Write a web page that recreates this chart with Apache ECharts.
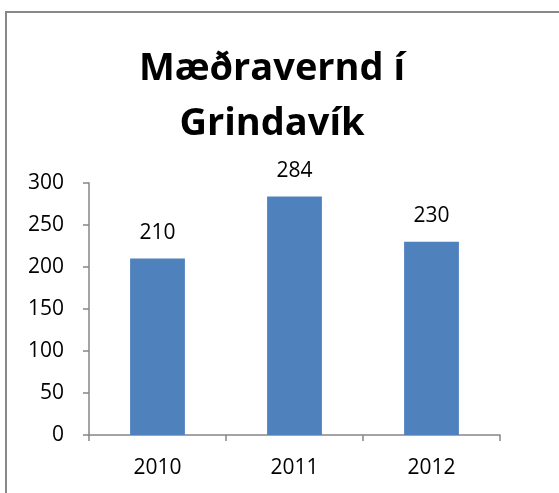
<!DOCTYPE html>
<html lang="is">
<head>
    <meta charset="utf-8">
    <title>Mæðravernd í Grindavík</title>
    <script src="https://cdn.jsdelivr.net/npm/echarts@6/dist/echarts.min.js"></script>
    <style>
        html, body { margin: 0; padding: 0; background: #fff; }
    </style>
</head>
<body>
<div id="main" style="width: 559px;height:493px;"></div>
<script type="text/javascript">
    // gögn
    var years = ['2010', '2011', '2012'];
    var visits = [210, 284, 230];
    var yTicks = [0, 50, 100, 150, 200, 250, 300];

    var font = '"Open Sans", "Liberation Sans", sans-serif';
    var axisGrey = '#868686';

    var myChart = echarts.init(document.getElementById('main'));
    myChart.setOption({
        animation: false,
        backgroundColor: '#fff',
        textStyle: { fontFamily: font },
        graphic: [{
            type: 'rect',
            shape: { x: 6, y: 12, width: 700, height: 700 },
            style: { fill: 'none', stroke: '#888', lineWidth: 2 },
            silent: true
        }],
        title: {
            text: 'Mæðravernd í\nGrindavík',
            left: 267,
            textAlign: 'center',
            top: 37,
            textStyle: {
                fontFamily: font,
                fontWeight: 'bold',
                fontSize: 38,
                lineHeight: 55,
                color: '#000'
            }
        },
        grid: {
            left: 89,
            right: 59,
            top: 183,
            bottom: 58,
            containLabel: false
        },
        xAxis: {
            type: 'category',
            data: years,
            boundaryGap: true,
            axisLine: { lineStyle: { color: axisGrey, width: 1.5 } },
            axisTick: { show: true, length: 6, lineStyle: { color: axisGrey, width: 1.5 } },
            axisLabel: { color: '#000', fontSize: 21, margin: 23 },
            splitLine: { show: false }
        },
        yAxis: {
            type: 'value',
            min: yTicks[0],
            max: yTicks[yTicks.length - 1],
            interval: yTicks[1] - yTicks[0],
            axisLine: { show: true, lineStyle: { color: axisGrey, width: 1.5 } },
            axisTick: { show: true, length: 6, lineStyle: { color: axisGrey, width: 1.5 } },
            axisLabel: { color: '#000', fontSize: 21, margin: 25 },
            splitLine: { show: false }
        },
        series: [{
            type: 'bar',
            data: visits,
            barWidth: '40%',
            itemStyle: { color: '#4F81BD' },
            label: {
                show: true,
                position: 'top',
                distance: 15,
                color: '#000',
                fontSize: 21,
                fontFamily: font
            }
        }]
    });
</script>
</body>
</html>
